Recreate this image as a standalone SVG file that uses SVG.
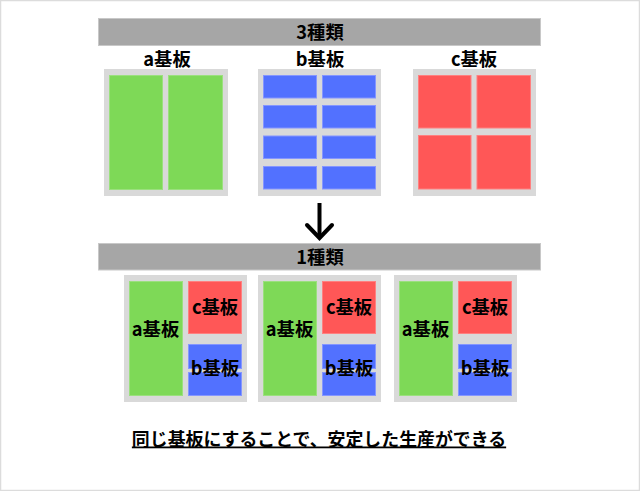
<svg xmlns="http://www.w3.org/2000/svg" width="640" height="491" viewBox="0 0 640 491">
<style>
.bar{fill:#a6a6a6;stroke:#c8c8c8;stroke-width:1}
.panel{fill:#d9d9d9}
.g{fill:#7ed957;stroke:#9be07e;stroke-width:1}
.b{fill:#5271ff;stroke:#8596ff;stroke-width:1}
.r{fill:#ff5757;stroke:#ff8080;stroke-width:1}
text{font-family:"Noto Sans CJK JP","Noto Sans",sans-serif;font-weight:bold;fill:#000;text-anchor:middle}
.lbl{font-size:18.3px}
</style>
<rect x="0.5" y="0.5" width="639" height="490" fill="#fff" stroke="#dcdcdc" stroke-width="1.5"/>
<g id="header-3">
<rect class="bar" x="98.5" y="18.5" width="442" height="27"/>
<text class="lbl" x="320" y="38.5">3種類</text>
</g>
<g id="board-a">
<text class="lbl" x="167" y="65.5">a基板</text>
<rect class="panel" x="104" y="69" width="124" height="127"/>
<rect class="g" x="109.5" y="75.5" width="53" height="114"/>
<rect class="g" x="168.5" y="75.5" width="54" height="114"/>
</g>
<g id="board-b">
<text class="lbl" x="320" y="65.5">b基板</text>
<rect class="panel" x="258" y="69" width="123" height="127"/>
<rect class="b" x="263.5" y="75.5" width="53" height="22.5"/>
<rect class="b" x="322.5" y="75.5" width="53" height="22.5"/>
<rect class="b" x="263.5" y="105.5" width="53" height="22.5"/>
<rect class="b" x="322.5" y="105.5" width="53" height="22.5"/>
<rect class="b" x="263.5" y="136" width="53" height="22.5"/>
<rect class="b" x="322.5" y="136" width="53" height="22.5"/>
<rect class="b" x="263.5" y="166.5" width="53" height="22.5"/>
<rect class="b" x="322.5" y="166.5" width="53" height="22.5"/>
</g>
<g id="board-c">
<text class="lbl" x="474" y="65.5">c基板</text>
<rect class="panel" x="413" y="69" width="123" height="127"/>
<rect class="r" x="418.5" y="75.5" width="52.5" height="52.5"/>
<rect class="r" x="477" y="75.5" width="53.5" height="52.5"/>
<rect class="r" x="418.5" y="135.5" width="52.5" height="53.5"/>
<rect class="r" x="477" y="135.5" width="53.5" height="53.5"/>
</g>
<g id="connectors">
<line x1="319.5" y1="203" x2="319.5" y2="237" stroke="#000" stroke-width="4"/>
<polyline points="307,225 319.5,238 332,225" fill="none" stroke="#000" stroke-width="4" stroke-linecap="round" stroke-linejoin="miter"/>
</g>
<g id="header-1">
<rect class="bar" x="98.5" y="243.5" width="442" height="26.5"/>
<text class="lbl" x="320" y="263.5">1種類</text>
</g>
<g id="combined-1" transform="translate(124,275)">
<rect class="panel" x="0" y="0" width="123" height="127"/>
<rect class="g" x="5.5" y="6.5" width="53" height="114"/>
<rect class="r" x="64.5" y="6.5" width="53" height="52"/>
<rect class="b" x="64.5" y="69.5" width="53" height="24"/>
<rect class="b" x="64.5" y="97.5" width="53" height="23"/>
<text class="lbl" x="31.5" y="60.5">a基板</text>
<text class="lbl" x="91" y="38.5">c基板</text>
<text class="lbl" x="91" y="99.5">b基板</text>
</g>
<g id="combined-2" transform="translate(258,275)">
<rect class="panel" x="0" y="0" width="123" height="127"/>
<rect class="g" x="5.5" y="6.5" width="53" height="114"/>
<rect class="r" x="64.5" y="6.5" width="53" height="52"/>
<rect class="b" x="64.5" y="69.5" width="53" height="24"/>
<rect class="b" x="64.5" y="97.5" width="53" height="23"/>
<text class="lbl" x="31.5" y="60.5">a基板</text>
<text class="lbl" x="91" y="38.5">c基板</text>
<text class="lbl" x="91" y="99.5">b基板</text>
</g>
<g id="combined-3" transform="translate(394,275)">
<rect class="panel" x="0" y="0" width="123" height="127"/>
<rect class="g" x="5.5" y="6.5" width="53" height="114"/>
<rect class="r" x="64.5" y="6.5" width="53" height="52"/>
<rect class="b" x="64.5" y="69.5" width="53" height="24"/>
<rect class="b" x="64.5" y="97.5" width="53" height="23"/>
<text class="lbl" x="31.5" y="60.5">a基板</text>
<text class="lbl" x="91" y="38.5">c基板</text>
<text class="lbl" x="91" y="99.5">b基板</text>
</g>
<g id="caption">
<text x="319" y="445.5" font-size="17.9" text-decoration="underline">同じ基板にすることで、安定した生産ができる</text>
</g>
</svg>
